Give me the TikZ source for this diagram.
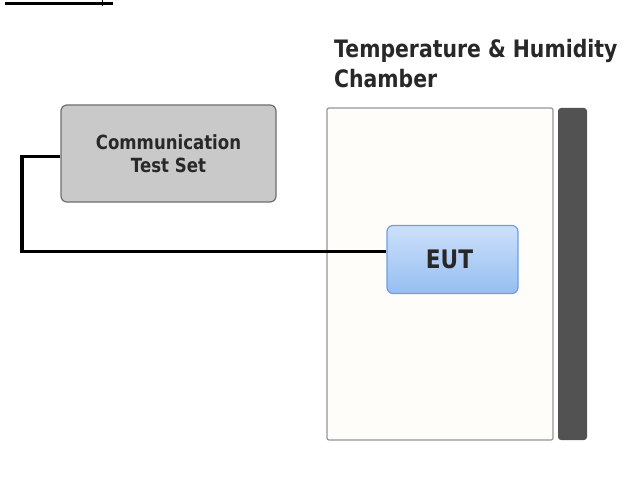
\documentclass[tikz,border=0pt]{standalone}
\usepackage{fontspec}
\setmainfont{DejaVu Sans}[FakeStretch=0.85]
\usepackage{tikz}
\pgfdeclarelayer{bg}
\pgfsetlayers{bg,main}
\definecolor{setgray}{RGB}{201,201,201}
\definecolor{setedge}{RGB}{110,110,110}
\definecolor{chamberfill}{RGB}{255,253,249}
\definecolor{chamberedge}{RGB}{150,150,150}
\definecolor{bargray}{RGB}{82,82,82}
\definecolor{eutlight}{RGB}{205,224,250}
\definecolor{eutdark}{RGB}{150,190,242}
\definecolor{eutedge}{RGB}{112,158,228}
\definecolor{inkgray}{RGB}{40,40,40}

\begin{document}
\begin{tikzpicture}[x=1pt, y=-1pt,
        every node/.style={text=inkgray, font=\bfseries},
        devbox/.style={rounded corners=6pt, line width=1.2pt, inner sep=0pt, align=center},
        cable/.style={line width=3.5pt, line join=miter}]
        \useasboundingbox (0,0) rectangle (628,489);
        \draw[line width=2.5pt] (5,3.5) -- (113,3.5);
        \draw[line width=1pt] (102,0) -- (102,6);
        \node (title) [anchor=north west, inner sep=0pt, align=left, font=\bfseries\fontsize{24}{30}\selectfont] at (334,39) {Temperature \& Humidity\\Chamber};
        \node (cts) [devbox, draw=setedge, fill=setgray, minimum width=215, minimum height=97, font=\bfseries\fontsize{19.5}{23}\selectfont] at (168.5,153.5) {Communication\\Test Set};
        \node (eut) [devbox, draw=eutedge, top color=eutlight, bottom color=eutdark, minimum width=131, minimum height=68, font=\bfseries\fontsize{25.5}{28}\selectfont] at (452.5,259.5) {EUT\hspace{6pt}};
        \coordinate (corner) at (22,251.5);
        \begin{pgfonlayer}{bg}
                \node (chamber) [draw=chamberedge, fill=chamberfill, line width=1.2pt, rounded corners=2pt, minimum width=226, minimum height=332] at (440,274) {};
                \node (bar) [fill=bargray, rounded corners=3pt, minimum width=29, minimum height=332] at (572.5,274) {};
                \draw[cable] ([yshift=-3pt]cts.west) -| (corner) -- ([yshift=8pt]eut.west);
        \end{pgfonlayer}
\end{tikzpicture}
\end{document}
